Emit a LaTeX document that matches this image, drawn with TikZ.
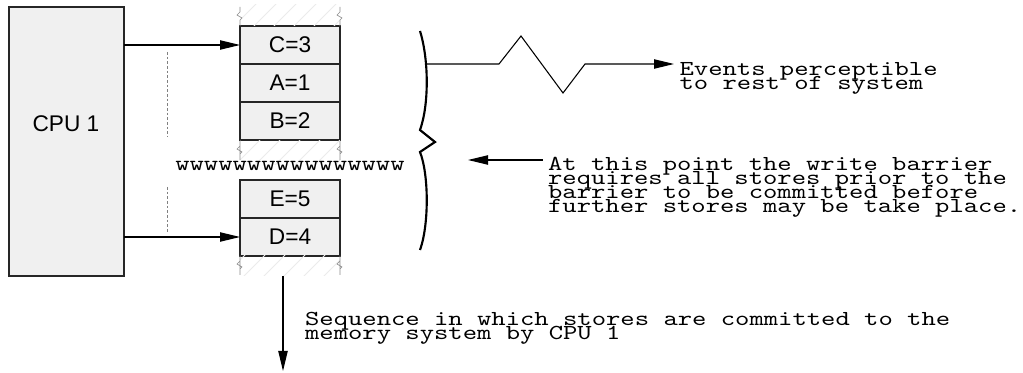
\documentclass[tikz,border=0pt]{standalone}
\usepackage{fontspec}
\setmainfont{Liberation Sans}
\newfontfamily\courfont{lmmono10-regular.otf}[FakeStretch=1.28]
\usetikzlibrary{arrows.meta,positioning}
\newcommand\tightlines{\lineskiplimit=-100pt\relax\lineskip=0pt\relax}

\begin{document}
\begin{tikzpicture}[x=0.75pt,y=-0.75pt,>={Triangle[length=15pt,width=7pt]},
  every node/.style={font=\fontsize{17}{20}\selectfont},
  cell/.style={draw=black!85,fill=black!6,line width=1pt,minimum width=75pt,minimum height=28.5pt,inner sep=0pt,outer sep=0pt},
  note/.style={font=\courfont\fontsize{16}{10.65}\selectfont\tightlines,align=left,inner xsep=4pt,inner ysep=0pt},
  conn/.style={->,line width=0.8pt},
  hatch/.style={black!8,line width=0.6pt},
  cut/.style={black!45,line width=0.5pt}]
  \useasboundingbox (0,0) rectangle (1023,373);
  \node[cell,minimum width=86.25pt,minimum height=201.75pt] (cpu) at (66.5,141.5) {};
  \node (cputext) at (66,124) {CPU 1};
  \node[cell] (c3) at (290,45) {C=3};
  \node[cell,below=0pt of c3] (a1) {A=1};
  \node[cell,below=0pt of a1] (b2) {B=2};
  \node[cell] (e5) at (290,199) {E=5};
  \node[cell,below=0pt of e5] (d4) {D=4};
  \foreach \ya/\yb/\ym/\ye in {26/5/16/7, 141/165/150/160, 256/276/265/275} {
    \begin{scope}
      \clip (240,\ya) rectangle (340,\yb);
      \foreach \x in {-120,-100,...,360} \draw[hatch] (\x,300) -- ++(300,-300);
    \end{scope}
    \foreach \x in {240,340}
      \draw[cut] (\x,\ya) -- (\x,{\ym+4}) -- (\x+2,{\ym+2}) -- (\x-3,{\ym-1}) -- (\x,{\ym-4}) -- (\x,\ye);
  }
  \node[note,inner xsep=0pt,anchor=base west] (wbar) at (175,171) {wwwwwwwwwwwwwwww};
  \draw[conn] (cpu.east |- c3.west) -- (c3.west);
  \draw[conn] (cpu.east |- d4.west) -- (d4.west);
  \draw[gray,dash pattern=on 2pt off 1.5pt] (167,52) -- (167,137) (167,187) -- (167,232);
  \draw[line width=1.6pt] (420,31) .. controls (429,60) and (429,105) .. (420,130) -- (435,142) -- (420,152) .. controls (429,175) and (429,225) .. (420,250);
  \coordinate (brz) at (427,64);
  \node[note,anchor=base west] (events) at (674,90) {Events perceptible\\to rest of system};
  \draw[conn] (brz) -- (499,64) -- (521,36) -- (563,93) -- (585,64) -- (events.west |- brz);
  \coordinate (bartip) at (468,160);
  \node[note,anchor=base west] (barrier) at (542.5,213) {At this point the write barrier\\requires all stores prior to the\\barrier to be committed before\\further stores may be take place.};
  \draw[conn] (barrier.west |- bartip) -- (bartip);
  \coordinate (seqtop) at (283,276);
  \coordinate (seqend) at (283,371);
  \draw[conn] (seqtop) -- (seqend);
  \node[note,anchor=base west] (seq) at (299.5,340) {Sequence in which stores are committed to the\\memory system by CPU 1};
\end{tikzpicture}
\end{document}
